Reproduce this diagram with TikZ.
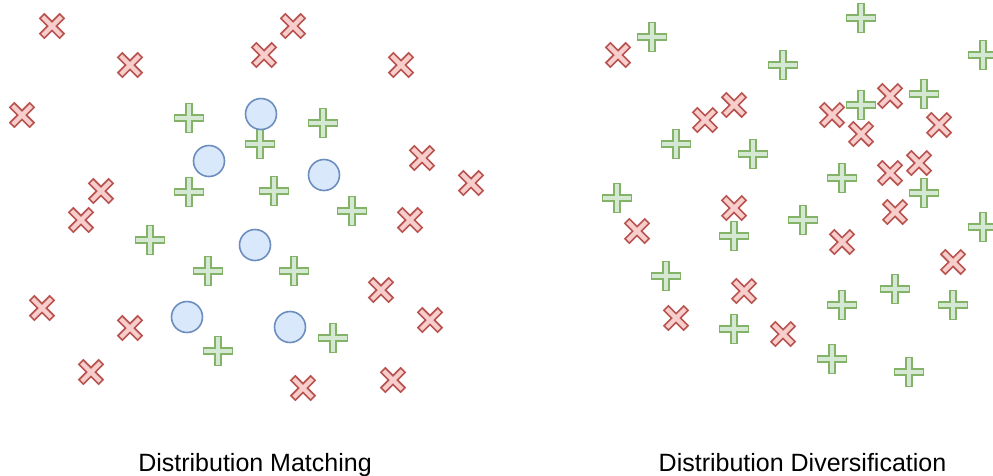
\documentclass[tikz,border=0pt]{standalone}
\usepackage{fontspec}
\newfontfamily\labelfont{Liberation Sans}
\definecolor{redfill}{HTML}{F8CECC}
\definecolor{redline}{HTML}{B85450}
\definecolor{greenfill}{HTML}{D5E8D4}
\definecolor{greenline}{HTML}{82B366}
\definecolor{bluefill}{HTML}{DAE8FC}
\definecolor{blueline}{HTML}{6C8EBF}
\tikzset{
  xmark/.pic={
    \draw[fill=redfill,draw=redline,line width=1.6pt,line join=miter,rotate=45]
      (14,3.1) -- (3.1,3.1) -- (3.1,14) -- (-3.1,14) -- (-3.1,3.1) -- (-14,3.1) -- (-14,-3.1)
      -- (-3.1,-3.1) -- (-3.1,-14) -- (3.1,-14) -- (3.1,-3.1) -- (14,-3.1) -- cycle;
  },
  pmark/.pic={
    \draw[fill=greenfill,draw=greenline,line width=1.6pt,line join=miter]
      (14.4,3.2) -- (3.2,3.2) -- (3.2,14.4) -- (-3.2,14.4) -- (-3.2,3.2) -- (-14.4,3.2) -- (-14.4,-3.2)
      -- (-3.2,-3.2) -- (-3.2,-14.4) -- (3.2,-14.4) -- (3.2,-3.2) -- (14.4,-3.2) -- cycle;
  },
  dot/.style={circle,fill=bluefill,draw=blueline,line width=1.6pt,minimum size=31pt,inner sep=0pt},
  caption/.style={font=\labelfont\fontsize{25}{30}\selectfont,text=black,inner sep=0pt,anchor=base}
}
\begin{document}
\begin{tikzpicture}[x=1pt,y=-1pt]
\useasboundingbox (0,0) rectangle (993,475);
% left panel: red crosses
\foreach \p [count=\i] in {(52,26),(130,65),(22,115),(293,26),(264,55),(401,65),(422,158),(471,183),(101,191),(81,220),(410,220),(42,308),(130,328),(91,372),(381,290),(430,320),(303,388),(393,380)}
  \pic (lx\i) at \p {xmark};
% left panel: green pluses
\foreach \p [count=\i] in {(189,118),(260,144),(323,123),(189,192),(274,191),(352,211),(150,240),(208,271),(294,271),(218,351),(333,338)}
  \pic (lp\i) at \p {pmark};
% left panel: blue circles
\node[dot] (c1) at (261,114) {};
\node[dot] (c2) at (209,161) {};
\node[dot] (c3) at (324,175) {};
\node[dot] (c4) at (255,245) {};
\node[dot] (c5) at (187,317) {};
\node[dot] (c6) at (290,327) {};
% right panel: red crosses
\foreach \p [count=\i] in {(618,55),(705,120),(734,105),(832,115),(861,134),(890,96),(939,125),(890,173),(919,163),(895,212),(734,208),(637,231),(842,242),(953,262),(744,291),(676,318),(783,334)}
  \pic (rx\i) at \p {xmark};
% right panel: green pluses
\foreach \p [count=\i] in {(652,37),(861,18),(983,55),(783,65),(861,105),(924,94),(676,144),(753,154),(842,178),(924,193),(617,198),(983,227),(734,236),(803,220),(666,276),(842,305),(895,289),(953,305),(734,329),(832,359),(909,372)}
  \pic (rp\i) at \p {pmark};
% captions
\node[caption] (capL) at (255,471) {Distribution Matching};
\node[caption] (capR) at (802.5,471) {Distribution Diversification};
\end{tikzpicture}
\end{document}
